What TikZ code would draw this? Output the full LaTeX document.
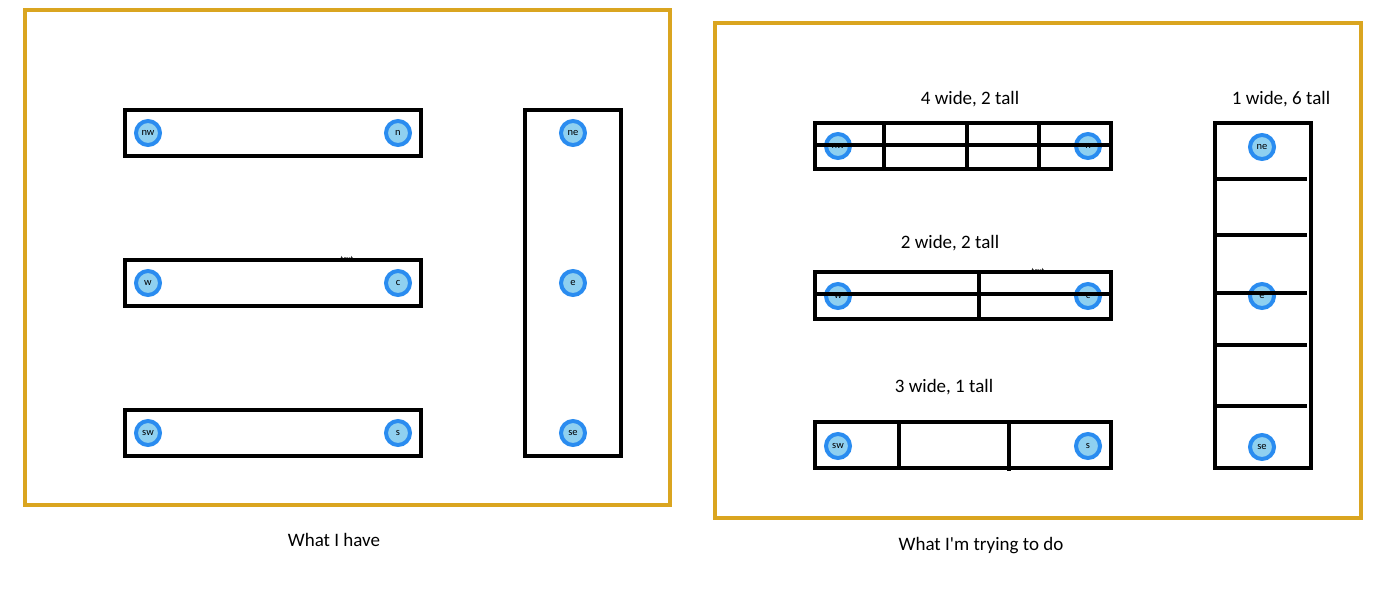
\documentclass[tikz,border=0pt]{standalone}
\usepackage{fontspec}
\setmainfont{Carlito}
\usepackage{tikz}
\usetikzlibrary{positioning}
\definecolor{framegold}{HTML}{DAA520}
\definecolor{ringblue}{HTML}{2A8CF0}
\definecolor{dotfill}{HTML}{8FD0F0}

\begin{document}
\begin{tikzpicture}[x=1pt,y=-1pt,font=\fontsize{19}{22}\selectfont]
\tikzset{
  frame/.style={draw=framegold,line width=4pt},
  bar/.style={draw=black,line width=4pt},
  anchordot/.style={circle,draw=ringblue,fill=dotfill,line width=4pt,
    minimum size=24pt,inner sep=0pt,font=\fontsize{10.5}{12}\selectfont},
  tinytext/.style={inner sep=0pt,font=\fontsize{8}{9}\selectfont}
}
\useasboundingbox (0,0) rectangle (1400,589);

% --- LEFT: what I have ---
\draw[frame] (25,10) rectangle (670,505);
\node[tinytext] (textL) at (347,259) {text};
\foreach \y in {110,260,410} {
  % one long box
  \draw[bar] (125,\y) rectangle +(296,46);
}
\draw[bar] (525,110) rectangle (621,456);
\node[anchordot] (nwL) at (148,133) {nw};
\node[anchordot] (nL) at (398,133) {n};
\node[anchordot] (wL) at (148,283) {w};
\node[anchordot] (cL) at (398,283) {c};
\node[anchordot] (swL) at (148,433) {sw};
\node[anchordot] (sL) at (398,433) {s};
\node[anchordot] (neL) at (573,133) {ne};
\node[anchordot] (eL) at (573,283) {e};
\node[anchordot] (seL) at (573,433) {se};
\node (haveLbl) at (334,540) {What I have};

% --- RIGHT: what I'm trying to do ---
\draw[frame] (715,23) rectangle (1361,518);
\node (headA) at (970,99) {4 wide, 2 tall};
\node (headB) at (950,243) {2 wide, 2 tall};
\node (headC) at (944,387) {3 wide, 1 tall};
\node (headD) at (1281,99) {1 wide, 6 tall};
\node[tinytext] (textR) at (1038,271) {text};

% dots go first, the grid lines are drawn over them
\node[anchordot] (nwR) at (838,146) {nw};
\node[anchordot] (nR) at (1088,146) {n};
\node[anchordot] (wR) at (838,296) {w};
\node[anchordot] (cR) at (1088,296) {c};
\node[anchordot] (swR) at (838,446) {sw};
\node[anchordot] (sR) at (1088,446) {s};
\node[anchordot] (neR) at (1262,147) {ne};
\node[anchordot] (eR) at (1262,296) {e};
\node[anchordot] (seR) at (1262,447) {se};

% 4 x 2 grid
\draw[bar] (815,123) rectangle (1111,169);
\foreach \x in {884,967,1039} {
  \draw[bar] (\x,123) -- (\x,169);
}
\draw[bar] (815,145) -- (1111,145);

% 2 x 2 grid
\draw[bar] (815,272) rectangle (1111,319);
\draw[bar] (979,272) -- (979,319);
\draw[bar] (815,294) -- (1111,294);

% 3 x 1 grid
\draw[bar] (815,422) rectangle (1111,468);
\draw[bar] (899,422) -- (899,468);
\draw[bar] (1009,422) -- (1009,471);

% 1 x 6 grid
\draw[bar] (1215,123) rectangle (1311,468);
\foreach \y in {179,235,293,345,406} {
  \draw[bar] (1215,\y) -- (1307,\y);
}

\node (tryLbl) at (981,546) {What I\textquotesingle m trying to do};

\end{tikzpicture}
\end{document}
